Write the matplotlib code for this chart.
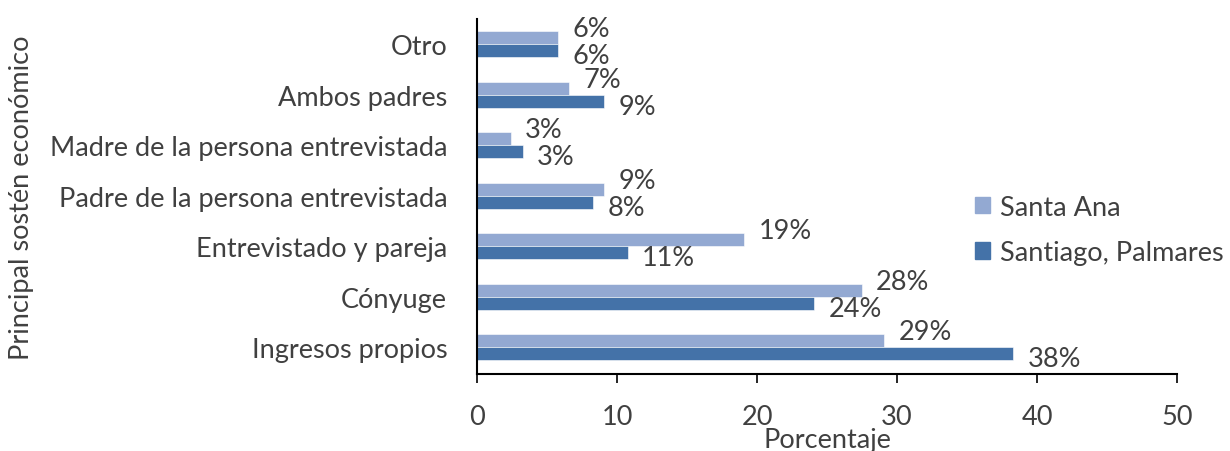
import numpy as np
import matplotlib.pyplot as plt
from matplotlib.patches import Patch

# data (bottom to top, as drawn)
categories = ['Ingresos propios', 'Cónyuge', 'Entrevistado y pareja',
              'Padre de la persona entrevistada', 'Madre de la persona entrevistada',
              'Ambos padres', 'Otro']
santa_ana = [29.1, 27.5, 19.1, 9.1, 2.4, 6.6, 5.8]
santiago = [38.3, 24.1, 10.8, 8.3, 3.3, 9.1, 5.8]
santa_ana_lbl = ['29%', '28%', '19%', '9%', '3%', '7%', '6%']
santiago_lbl = ['38%', '24%', '11%', '8%', '3%', '9%', '6%']
x_ticks = [0, 10, 20, 30, 40, 50]

TXT = '#404040'
C_LIGHT = '#93a9d2'
C_DARK = '#4472a8'
FS = 19.5

plt.rcParams['font.family'] = ['Lato', 'DejaVu Sans']

fig = plt.figure(figsize=(12.3, 4.52), dpi=100)
ax = fig.add_axes([0.3878, 0.1704, 0.957 - 0.3878, 0.9558 - 0.1704])

y = np.arange(len(categories))
h = 0.26
b1 = ax.barh(y + h / 2, santa_ana, h, color=C_LIGHT, edgecolor='white', linewidth=0.4)
b2 = ax.barh(y - h / 2, santiago, h, color=C_DARK, edgecolor='white', linewidth=0.4)

# value labels, Excel-style "outside end"
for bar, lbl in zip(b1, santa_ana_lbl):
    ax.annotate(lbl, (bar.get_width(), bar.get_y() + bar.get_height() / 2),
                xytext=(14, 9), textcoords='offset pixels',
                ha='left', va='center', fontsize=FS, color=TXT)
for bar, lbl in zip(b2, santiago_lbl):
    ax.annotate(lbl, (bar.get_width(), bar.get_y() + bar.get_height() / 2),
                xytext=(14, -5), textcoords='offset pixels',
                ha='left', va='center', fontsize=FS, color=TXT)

ax.set_xlim(0, 50)
ax.set_ylim(-0.53, 6.5)
ax.set_xticks(x_ticks)
ax.set_yticks(y)
ax.set_yticklabels(categories)
ax.tick_params(axis='y', length=0, pad=21.5, labelsize=FS, labelcolor=TXT)
ax.tick_params(axis='x', direction='out', length=6.5, width=1.2, pad=15,
               labelsize=FS, labelcolor=TXT)

for s in ['top', 'right']:
    ax.spines[s].set_visible(False)
ax.spines['left'].set_linewidth(1.5)
ax.spines['bottom'].set_linewidth(1.5)

ax.set_xlabel('Porcentaje', fontsize=FS, color=TXT, labelpad=-1)
ax.set_ylabel('Principal sostén económico', fontsize=FS, color=TXT)
ax.yaxis.set_label_coords(-0.633, 0.5)

handles = [Patch(color=C_LIGHT, label='Santa Ana'),
           Patch(color=C_DARK, label='Santiago, Palmares')]
leg = fig.legend(handles=handles, loc='center left',
                 bbox_to_anchor=(975 / 1230, 1 - 231 / 452),
                 frameon=False, fontsize=FS, labelspacing=0.75,
                 borderpad=0, borderaxespad=0,
                 handlelength=0.55, handleheight=0.55, handletextpad=0.37)
for t in leg.get_texts():
    t.set_color(TXT)

fig.savefig('out.png', dpi=100)
